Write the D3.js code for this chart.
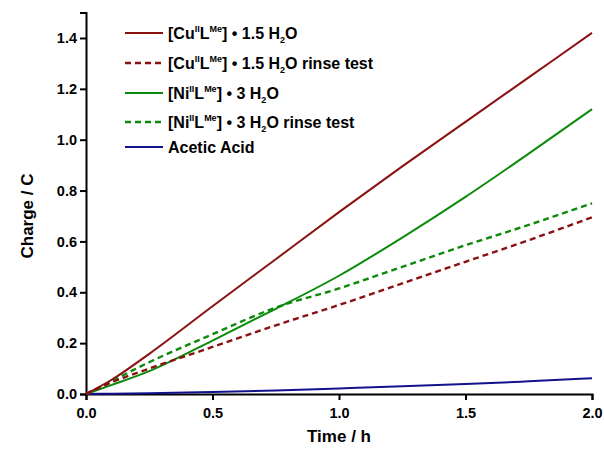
<!DOCTYPE html>
<html>
<head>
<meta charset="utf-8">
<script src="https://cdn.jsdelivr.net/npm/d3@7"></script>
<style>
  body { margin: 0; background: #fff; }
  text { font-family: "Liberation Sans", Arial, sans-serif; font-weight: bold; }
</style>
</head>
<body>
<div id="chart"></div>
<script>
// time points (h)
const times = [0, 0.1, 0.25, 0.5, 0.75, 1.0, 1.25, 1.5, 1.75, 2.0]
// charge (C)
const cuSolid = [0, 0.055, 0.158, 0.345, 0.53, 0.715, 0.895, 1.07, 1.245, 1.42]
const cuRinse = [0, 0.045, 0.10, 0.185, 0.27, 0.35, 0.435, 0.52, 0.605, 0.695]
const niSolid = [0, 0.035, 0.09, 0.21, 0.335, 0.465, 0.615, 0.775, 0.945, 1.12]
const niRinse = [0, 0.05, 0.125, 0.235, 0.34, 0.415, 0.50, 0.585, 0.665, 0.75]
const acetic = [0, 0.001, 0.003, 0.008, 0.014, 0.022, 0.030, 0.039, 0.050, 0.062]

const xTicks = [0, 0.5, 1.0, 1.5, 2.0]
const yTicks = [0, 0.2, 0.4, 0.6, 0.8, 1.0, 1.2, 1.4]

const series = [
  { name: 'cu', values: cuSolid, color: '#8b1111', dash: null, label: ['Cu', '1.5'], rinse: false },
  { name: 'cuRinse', values: cuRinse, color: '#8b1111', dash: '6,4', label: ['Cu', '1.5'], rinse: true },
  { name: 'ni', values: niSolid, color: '#0b8a0b', dash: null, label: ['Ni', '3'], rinse: false },
  { name: 'niRinse', values: niRinse, color: '#0b8a0b', dash: '6,4', label: ['Ni', '3'], rinse: true },
  { name: 'acetic', values: acetic, color: '#12128c', dash: null, label: null }
]

const width = 604, height = 449

const svg = d3.select('#chart').append('svg')
  .attr('width', width).attr('height', height)

const x = d3.scaleLinear().domain([0, 2]).range([86, 592])
const y = d3.scaleLinear().domain([0, 1.5]).range([394, 394 - 1.5 * 254.3])

// axes
const xAxis = svg.append('g').attr('transform', `translate(0, ${y(0)})`)
xAxis.call(d3.axisBottom(x).tickValues(d3.range(0, 2.01, 0.25)).tickSize(4).tickFormat(''))
xAxis.call(d3.axisBottom(x).tickValues(xTicks).tickSize(6).tickPadding(3).tickFormat(d3.format('.1f')))

const yAxis = svg.append('g').attr('transform', `translate(${x(0)}, 0)`)
yAxis.call(d3.axisLeft(y).tickValues(d3.range(0, 1.51, 0.1)).tickSize(4).tickFormat(''))
yAxis.call(d3.axisLeft(y).tickValues(yTicks).tickSize(6).tickPadding(3).tickFormat(d3.format('.1f')))

svg.selectAll('.domain').attr('stroke', '#000').attr('stroke-width', 2)
svg.selectAll('.tick line').attr('stroke', '#000').attr('stroke-width', 2)
svg.selectAll('.tick text').attr('font-size', 14.5).attr('fill', '#000')
xAxis.selectAll('.tick text').attr('dy', '1em')

// axis titles
svg.append('text')
  .attr('x', x(1)).attr('y', 442)
  .attr('text-anchor', 'middle').attr('font-size', 17)
  .text('Time / h')
svg.append('text')
  .attr('transform', `translate(33, ${y(0.7)}) rotate(-90)`)
  .attr('text-anchor', 'middle').attr('font-size', 17)
  .text('Charge / C')

// lines
const line = d3.line()
  .x((d, i) => x(times[i]))
  .y(d => y(d))
  .curve(d3.curveMonotoneX)

series.slice().reverse().forEach(s => {
  svg.append('path')
    .datum(s.values)
    .attr('d', line)
    .attr('fill', 'none')
    .attr('stroke', s.color)
    .attr('stroke-width', s.dash ? 2.4 : 2)
    .attr('stroke-dasharray', s.dash)
})

// legend
const legendY = [33, 63, 93, 122, 147]
series.forEach((s, i) => {
  const ly = legendY[i]
  svg.append('line')
    .attr('x1', 125).attr('x2', 163)
    .attr('y1', ly).attr('y2', ly)
    .attr('stroke', s.color).attr('stroke-width', s.dash ? 2.4 : 2)
    .attr('stroke-dasharray', s.dash)
  const t = svg.append('text')
    .attr('x', 168).attr('y', ly + 6)
    .attr('font-size', 16)
  if (!s.label) {
    t.text('Acetic Acid')
    return
  }
  t.append('tspan').text('[' + s.label[0])
  t.append('tspan').attr('font-size', 9).attr('dy', -7).text('II')
  t.append('tspan').attr('dy', 7).text('L')
  t.append('tspan').attr('font-size', 9).attr('dy', -7).text('Me')
  t.append('tspan').attr('dy', 7).text('] \u2022 ' + s.label[1] + ' H')
  t.append('tspan').attr('font-size', 9).attr('dy', 4).text('2')
  t.append('tspan').attr('dy', -4).text('O' + (s.rinse ? ' rinse test' : ''))
})
</script>
</body>
</html>
